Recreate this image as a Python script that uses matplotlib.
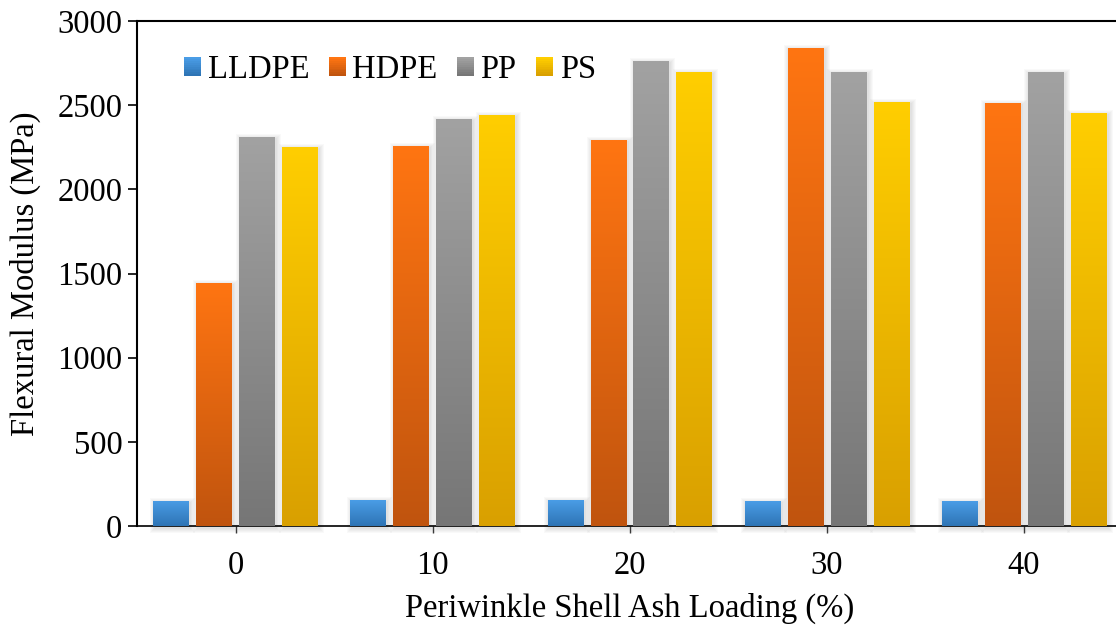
import numpy as np
import matplotlib
matplotlib.use("Agg")
import matplotlib.pyplot as plt
from matplotlib.colors import LinearSegmentedColormap
from matplotlib.patches import Rectangle, Patch
from matplotlib.legend_handler import HandlerBase

plt.rcParams['font.family'] = ['Liberation Serif', 'DejaVu Serif']

# data
loading = ['0', '10', '20', '30', '40']
series = ['LLDPE', 'HDPE', 'PP', 'PS']
lldpe = [150, 154, 152, 147, 147]
hdpe = [1444, 2257, 2293, 2840, 2513]
pp = [2313, 2418, 2762, 2697, 2697]
ps = [2253, 2442, 2697, 2519, 2453]

# (top colour, bottom colour) for the excel style gradients
grads = {
    'LLDPE': ('#4A9DE6', '#2E74B5'),
    'HDPE': ('#FF7512', '#C0540E'),
    'PP': ('#A2A2A2', '#767676'),
    'PS': ('#FFCE00', '#D9A000'),
}

fs = 23.5

fig = plt.figure(figsize=(11.16, 6.26), dpi=100)
ax = fig.add_axes([137 / 1116, 100 / 626, 985.5 / 1116, 505 / 626])

x = np.arange(len(loading))
offsets = [-0.327, -0.109, 0.109, 0.327]
width = 0.18
px_x = 1 / 197.0
px_y = 3000 / 505.0

for name, vals, off in zip(series, [lldpe, hdpe, pp, ps], offsets):
    top, bot = grads[name]
    cmap = LinearSegmentedColormap.from_list(name, [bot, top])
    bars = ax.bar(x + off, vals, width, color='none', edgecolor='none', zorder=3)
    for b in bars:
        x0, w, h = b.get_x(), b.get_width(), b.get_height()
        # soft shadow
        for k in range(1, 6):
            ax.add_patch(Rectangle((x0 + 1.5 * px_x - k * px_x, -k * px_y - 2 * px_y),
                                   w + 2 * k * px_x, h + 2 * k * px_y,
                                   facecolor='black', edgecolor='none', alpha=0.022,
                                   zorder=2, clip_on=False))
        grad = np.linspace(0, 1, 256).reshape(-1, 1)
        im = ax.imshow(grad, cmap=cmap, origin='lower', aspect='auto',
                       extent=(x0, x0 + w, 0, h), zorder=3)
        im.set_clip_path(b)


class GradHandler(HandlerBase):
    def create_artists(self, legend, orig_handle, xdescent, ydescent,
                       width, height, fontsize, trans):
        top, bot = grads[orig_handle.get_label()]
        cmap = LinearSegmentedColormap.from_list('h', [bot, top])
        n = 10
        arts = []
        for i in range(n):
            r = Rectangle((-xdescent, -ydescent + height * i / n), width, height / n + 0.3,
                          facecolor=cmap(i / (n - 1)), edgecolor='none', transform=trans)
            arts.append(r)
        return arts


handles = [Patch(label=s) for s in series]
ax.legend(handles=handles, labels=series, handler_map={Patch: GradHandler()},
          ncol=4, frameon=False, fontsize=fs, loc='center left',
          bbox_to_anchor=(0.0477, 0.903), borderpad=0, borderaxespad=0,
          handlelength=0.52, handleheight=0.52, handletextpad=0.2,
          columnspacing=0.6)

ax.set_xlim(-0.5, 4.5)
ax.set_ylim(0, 3000)
ax.set_yticks(range(0, 3001, 500))
ax.set_xticks(x)
ax.set_xticklabels(loading)
ax.tick_params(axis='y', direction='out', length=6.5, width=1.2, labelsize=fs, pad=4)
ax.tick_params(axis='x', direction='out', length=5, width=1, labelsize=fs, pad=13,
               color='#404040')
for sp in ax.spines.values():
    sp.set_linewidth(1.5)
ax.spines['bottom'].set_linewidth(1.2)

ax.set_ylabel('Flexural Modulus (MPa)', fontsize=fs, labelpad=12)
ax.set_xlabel('Periwinkle Shell Ash Loading (%)', fontsize=fs, labelpad=8)

fig.savefig('out.png', dpi=100)
